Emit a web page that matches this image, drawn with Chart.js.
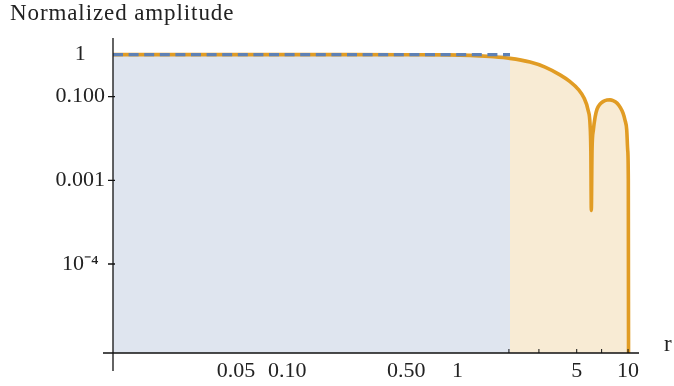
<!DOCTYPE html>
<html>
<head>
<meta charset="utf-8">
<script src="https://cdn.jsdelivr.net/npm/chart.js@4"></script>
<style>
  body { margin: 0; background: #fff; }
  #wrap { position: relative; width: 674px; height: 386px; }
  .lbl { position: absolute; font-family: 'Liberation Serif', serif; color: #222; line-height: 23px; white-space: nowrap; }
  #ytitle { left: 10px; top: 1px; font-size: 23px; letter-spacing: 0.9px; }
  #xtitle { left: 664px; top: 332px; font-size: 23px; }
</style>
</head>
<body>
<div id="wrap">
  <canvas id="chart" width="674" height="386"></canvas>
  <div class="lbl" id="ytitle">Normalized amplitude</div>
  <div class="lbl" id="xtitle">r</div>
</div>
<script>
// values
const rValues = [0.0095, 0.1, 0.5, 0.868, 1.184, 1.551, 2.03, 2.66, 3.26, 3.99, 4.57, 5.09, 5.52, 5.83, 5.99, 6.05,
  6.09, 6.15, 6.26, 6.41, 6.58, 6.85, 7.13, 7.53, 7.84, 8.17, 8.62, 8.98, 9.35, 9.60, 9.83, 9.96, 10.04, 10.08];
const amplitude = [1, 1, 0.999, 0.99, 0.962, 0.901, 0.816, 0.665, 0.505, 0.329, 0.227, 0.151, 0.0918, 0.0474, 0.0207, 0.0052,
  0.00019, 0.0052, 0.0158, 0.0322, 0.050, 0.066, 0.0757, 0.0822, 0.083, 0.080, 0.0697, 0.0559, 0.0401, 0.0273, 0.0158, 0.0052, 0.001, 1e-9];

const flatRange = [0.0095, 2.03];
const flatLevel = [1, 1];

const xTickValues = [0.05, 0.1, 0.5, 1, 5, 10];
const xTickLabels = ['0.05', '0.10', '0.50', '1', '5', '10'];
const xMinorTicks = [2, 3, 5, 7, 10];
const yTickValues = [1, 0.1, 0.001, 1e-5];
const yTickLabels = ['1', '0.100', '0.001', '10\u207B\u2074'];

const blue = '#5E81B5';
const orange = '#E19C24';

const curve = rValues.map((r, i) => ({ x: r, y: amplitude[i] }));
const tail = curve.filter(p => p.x >= flatRange[1]);
const flat = flatRange.map((r, i) => ({ x: r, y: flatLevel[i] }));

// axis lines crossing like the original, plus small tick marks
const axesPlugin = {
  id: 'axes',
  afterDatasetsDraw(chart) {
    const { ctx, chartArea: a, scales: { x, y } } = chart;
    ctx.save();
    ctx.strokeStyle = '#111';
    ctx.lineWidth = 1.3;
    ctx.beginPath();
    ctx.moveTo(a.left, a.top);
    ctx.lineTo(a.left, a.bottom + 18);
    ctx.moveTo(a.left - 10, a.bottom);
    ctx.lineTo(a.right, a.bottom);
    yTickValues.forEach(v => {
      if (v < 1) {
        const py = y.getPixelForValue(v);
        ctx.moveTo(a.left - 5, py);
        ctx.lineTo(a.left + 2, py);
      }
    });
    ctx.stroke();
    ctx.lineWidth = 1;
    ctx.beginPath();
    xMinorTicks.forEach(v => {
      const px = x.getPixelForValue(v);
      ctx.moveTo(px, a.bottom);
      ctx.lineTo(px, a.bottom - 4);
    });
    ctx.stroke();
    ctx.restore();
  }
};

Chart.defaults.font.family = "'Liberation Serif', serif";
Chart.defaults.color = '#222';

new Chart(document.getElementById('chart'), {
  type: 'line',
  data: {
    datasets: [
      {
        data: flat,
        borderColor: blue,
        borderWidth: 3.2,
        borderDash: [10, 5.6],
        backgroundColor: '#dfe5ef',
        fill: 'start',
        pointRadius: 0
      },
      {
        data: curve,
        borderColor: orange,
        borderWidth: 3.6,
        cubicInterpolationMode: 'monotone',
        fill: false,
        pointRadius: 0
      },
      {
        data: tail,
        borderWidth: 0,
        borderColor: 'rgba(0,0,0,0)',
        backgroundColor: '#f8ebd4',
        cubicInterpolationMode: 'monotone',
        fill: 'start',
        pointRadius: 0
      }
    ]
  },
  options: {
    responsive: false,
    animation: false,
    layout: { padding: { top: 38, right: 35, left: 0, bottom: 0 } },
    plugins: {
      legend: { display: false },
      tooltip: { enabled: false },
      filler: { drawTime: 'beforeDatasetsDraw' }
    },
    scales: {
      x: {
        type: 'logarithmic',
        min: 0.0095,
        max: 11.6,
        grid: { display: false, drawTicks: false },
        border: { display: false },
        afterBuildTicks: s => { s.ticks = xTickValues.map(v => ({ value: v })); },
        afterFit: s => { s.height = 33; },
        ticks: {
          autoSkip: false,
          maxRotation: 0,
          padding: 5,
          font: { size: 22 },
          callback: (v, i) => xTickLabels[i]
        }
      },
      y: {
        type: 'logarithmic',
        min: 7.5e-8,
        max: 2.5,
        grid: { display: false, drawTicks: false },
        border: { display: false },
        afterBuildTicks: s => { s.ticks = yTickValues.map(v => ({ value: v })); },
        afterFit: s => { s.width = 113; },
        ticks: {
          crossAlign: 'center',
          padding: 8,
          font: { size: 22 },
          callback: (v, i) => yTickLabels[i]
        }
      }
    }
  },
  plugins: [axesPlugin]
});
</script>
</body>
</html>
